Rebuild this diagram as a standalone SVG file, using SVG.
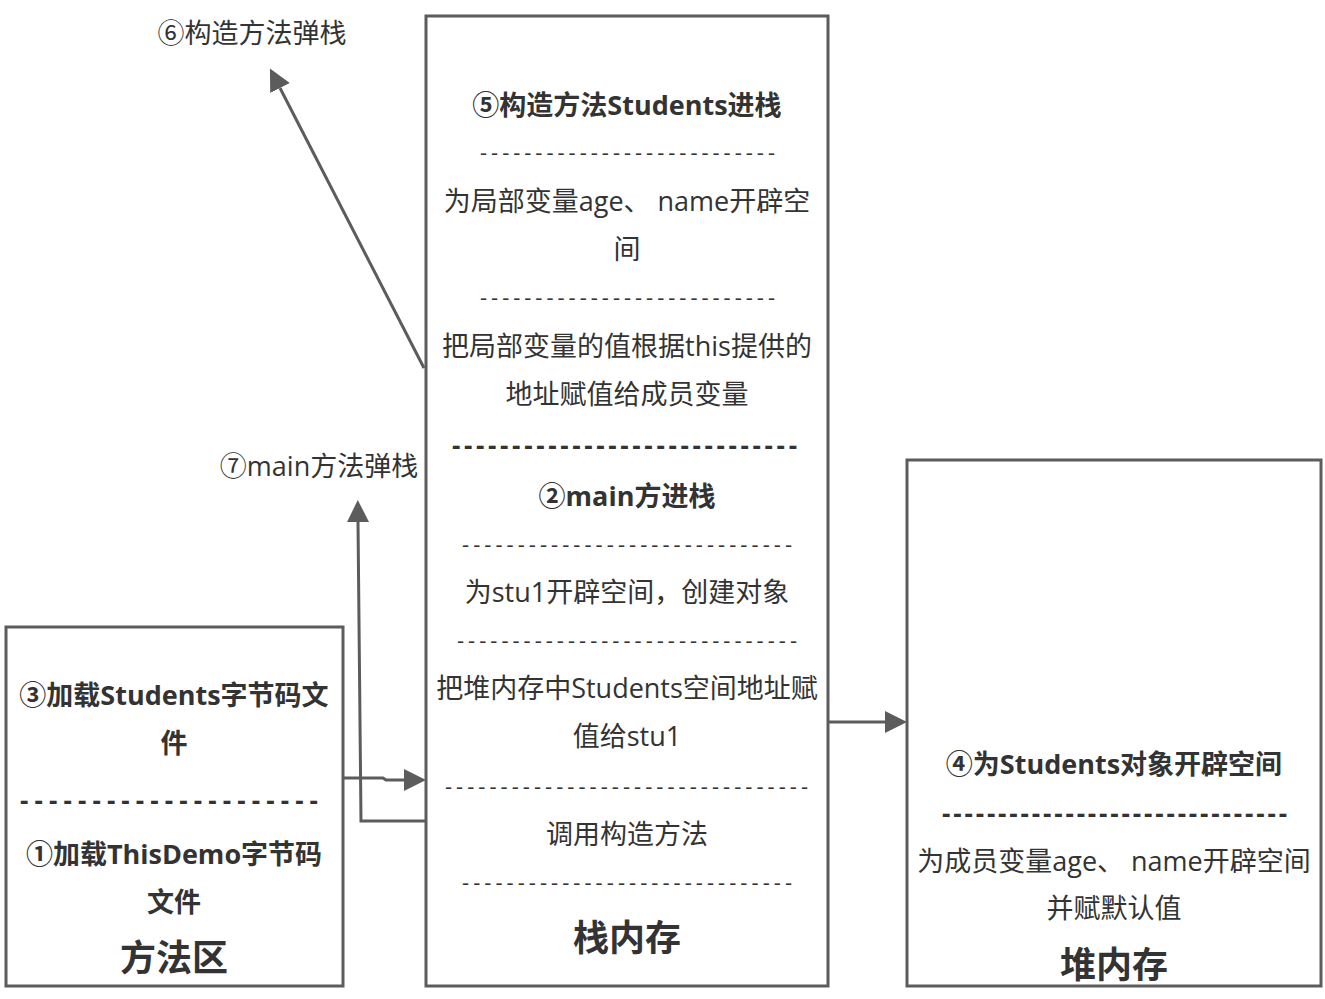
<svg xmlns="http://www.w3.org/2000/svg" width="1325" height="999" viewBox="0 0 1325 999">
<style>
.box{fill:#ffffff;stroke:#5c5c5c;stroke-width:3}
.t{font-family:"Open Sans","Noto Sans CJK SC",sans-serif;font-size:27px;fill:#333333;text-anchor:middle}
.b{font-weight:bold}
.h{font-family:"Open Sans","Noto Sans CJK SC",sans-serif;font-size:36px;font-weight:bold;fill:#333333;text-anchor:middle}
.d{font-family:"Open Sans","Noto Sans CJK SC",sans-serif;font-size:22px;fill:#333333}
.db{font-family:"Open Sans","Noto Sans CJK SC",sans-serif;font-size:26px;font-weight:bold;fill:#333333}
.c{fill:none;stroke:#5c5c5c;stroke-width:3}
</style>
<defs>
<marker id="ah" markerUnits="userSpaceOnUse" viewBox="0 0 22 22" markerWidth="22" markerHeight="22" refX="0" refY="11" orient="auto">
<path d="M0,0 L22,11 L0,22 z" fill="#5c5c5c"/>
</marker>
</defs>
<rect width="1325" height="999" fill="#ffffff"/>
<g id="method-area">
<rect class="box" x="6" y="627" width="337" height="359"/>
<text class="t b" x="174" y="705">③加载Students字节码文</text>
<text class="t b" x="174" y="753">件</text>
<text class="db" x="20" y="810" textLength="298" lengthAdjust="spacing">---------------------</text>
<text class="t b" x="174" y="864">①加载ThisDemo字节码</text>
<text class="t b" x="174" y="912">文件</text>
<text class="h" x="174" y="971">方法区</text>
</g>
<g id="stack">
<rect class="box" x="426" y="16" width="402" height="970"/>
<text class="t b" x="627" y="115">⑤构造方法Students进栈</text>
<text class="d" x="480" y="160" textLength="295" lengthAdjust="spacing">---------------------------</text>
<text class="t" x="627" y="211">为局部变量age、 name开辟空</text>
<text class="t" x="627" y="259">间</text>
<text class="d" x="480" y="305" textLength="295" lengthAdjust="spacing">---------------------------</text>
<text class="t" x="627" y="356">把局部变量的值根据this提供的</text>
<text class="t" x="627" y="404">地址赋值给成员变量</text>
<text class="db" x="452" y="455" textLength="345" lengthAdjust="spacing">-----------------------------</text>
<text class="t b" x="627" y="506">②main方进栈</text>
<text class="d" x="462" y="552" textLength="330" lengthAdjust="spacing">------------------------------</text>
<text class="t" x="627" y="602">为stu1开辟空间，创建对象</text>
<text class="d" x="457" y="648" textLength="340" lengthAdjust="spacing">-------------------------------</text>
<text class="t" x="627" y="698">把堆内存中Students空间地址赋</text>
<text class="t" x="627" y="746">值给stu1</text>
<text class="d" x="445" y="794" textLength="363" lengthAdjust="spacing">---------------------------------</text>
<text class="t" x="627" y="844">调用构造方法</text>
<text class="d" x="462" y="890" textLength="330" lengthAdjust="spacing">------------------------------</text>
<text class="h" x="627" y="951">栈内存</text>
</g>
<g id="heap">
<rect class="box" x="907" y="460" width="414" height="526"/>
<text class="t b" x="1114" y="774">④为Students对象开辟空间</text>
<text class="db" x="942" y="823" textLength="345" lengthAdjust="spacing">-------------------------------</text>
<text class="t" x="1114" y="871">为成员变量age、 name开辟空间</text>
<text class="t" x="1114" y="918">并赋默认值</text>
<text class="h" x="1114" y="978">堆内存</text>
</g>
<g id="label-6">
<text class="t" x="252" y="43">⑥构造方法弹栈</text>
</g>
<g id="label-7">
<text class="t" x="319" y="476">⑦main方法弹栈</text>
</g>
<g id="connectors">
<path class="c" d="M343,778 L383,778 L386,780 L404,780" marker-end="url(#ah)"/>
<path class="c" d="M426,821 L361,821 L358,522" marker-end="url(#ah)"/>
<path class="c" d="M424,368 L280,88" marker-end="url(#ah)"/>
<path class="c" d="M828,722 L885,722" marker-end="url(#ah)"/>
</g>
</svg>
